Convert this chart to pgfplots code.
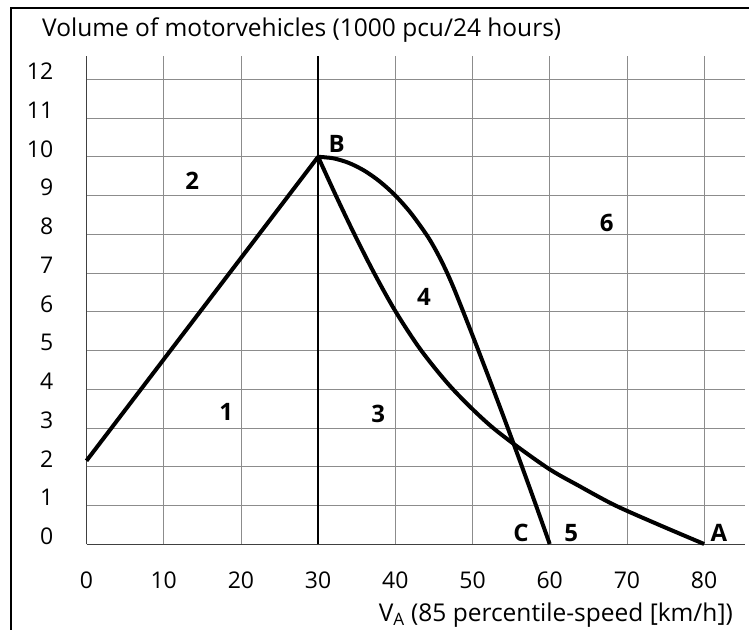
\documentclass[border=0pt]{standalone}
\usepackage{pgfplots}
\pgfplotsset{compat=1.18}
\usepackage{fontspec}
\setmainfont{Open Sans}
\begin{document}
\begin{tikzpicture}
\path[use as bounding box] (0pt,0pt) rectangle (749pt,629pt);
\draw[line width=2.8pt] (11pt,-3pt) -- (11pt,621pt) -- (752pt,621pt);
\begin{axis}[
  at={(86.5pt,85pt)}, anchor=south west,
  x=7.72pt, y=38.72pt,
  xmin=0, xmax=85.3, ymin=0, ymax=12.6,
  axis lines=left,
  axis line style={-, line width=0.9pt, black!75},
  every outer x axis line/.append style={-},
  every outer y axis line/.append style={-},
  xtick={0,10,...,80}, ytick={0,1,...,12},
  grid=major, major grid style={line width=0.6pt, black!45},
  major tick length=0pt,
  /pgf/number format/assume math mode=true,
  xticklabel style={anchor=center, yshift=-36pt, font=\fontsize{23}{23}\selectfont},
  yticklabel style={anchor=east, inner sep=0pt, xshift=-33pt, yshift=7.8pt, font=\fontsize{23}{23}\selectfont},
  clip=false,
]
\addplot[black, line width=2.2pt] coordinates {(30,0) (30,12.6)};
\addplot[black, line width=4pt] coordinates {(0,2.15) (30,10)};
% curve B-A (lower, convex)
\addplot[black, line width=4pt, smooth] coordinates {
(30,10) (32.3,9) (34.7,8) (37.25,7) (40.05,6) (43.35,5) (47.45,4) (52.65,3) (59.45,2) (63.8,1.5) (68.45,1) (74.1,0.5) (80,0)};
% curve B-C (upper, concave)
\addplot[black, line width=4pt, smooth] coordinates {
(30,10) (32,9.96) (34,9.84) (36,9.64) (38,9.36) (40,9.0) (42,8.55) (44,8.0) (45,7.675) (46,7.3) (47,6.875) (48,6.4) (50,5.389) (52,4.356) (54,3.3) (56,2.222) (58,1.122) (60,0)};
\begin{scope}[every node/.style={font=\fontsize{24}{24}\selectfont\bfseries}]
\node at (axis cs:32.4,10.33) {B};
\node at (axis cs:13.7,9.38) {2};
\node at (axis cs:18.1,3.40) {1};
\node at (axis cs:37.8,3.35) {3};
\node at (axis cs:43.7,6.39) {4};
\node at (axis cs:67.4,8.30) {6};
\node at (axis cs:56.3,0.28) {C};
\node at (axis cs:62.8,0.28) {5};
\node at (axis cs:81.9,0.28) {A};
\end{scope}
\end{axis}
\node[anchor=base west, inner sep=0pt, font=\fontsize{24.5}{24.5}\selectfont] at (42pt,592.3pt) {Volume of motorvehicles (1000 pcu/24 hours)};
\node[anchor=base east, inner sep=0pt, font=\fontsize{24.5}{24.5}\selectfont] at (733pt,7.3pt) {V\textsubscript{A} (85 percentile-speed [km/h])};
\end{tikzpicture}
\end{document}
